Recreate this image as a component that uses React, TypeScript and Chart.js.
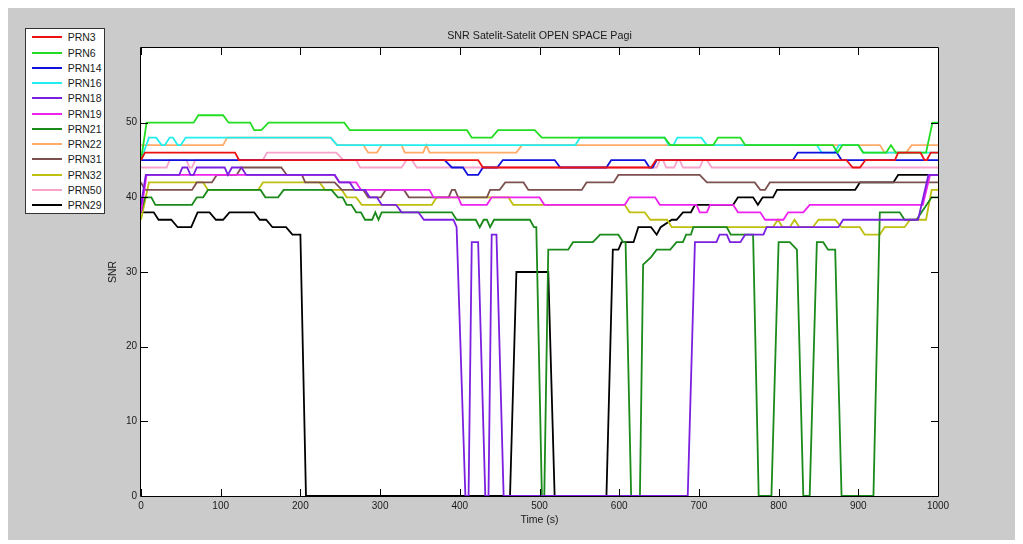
import React, { useEffect, useRef } from 'react';
import { Chart, registerables } from 'chart.js';

Chart.register(...registerables);

const TITLE = 'SNR Satelit-Satelit OPEN SPACE Pagi';
const X_LABEL = 'Time (s)';
const Y_LABEL = 'SNR';
const X_TICKS = [0, 100, 200, 300, 400, 500, 600, 700, 800, 900, 1000];
const Y_TICKS = [0, 10, 20, 30, 40, 50];
const X_MIN = 0;
const X_MAX = 1000;
const Y_MIN = 0;
const Y_MAX = 60;

type Pt = [number, number];

const PRN3: Pt[] = [[0,45],[5,46],[118,46],[123,45],[423,45],[429,44],[640,44],[646,45],[885,45],[893,44],[902,44],[909,45],[946,45],[950,46],[978,46],[983,45],[986,45],[991,46],[1000,46]];
const PRN6: Pt[] = [[0,45],[7,50],[66,50],[72,51],[103,51],[110,50],[137,50],[142,49],[151,49],[160,50],[255,50],[262,49],[409,49],[415,48],[440,48],[448,49],[494,49],[503,48],[657,48],[664,47],[718,47],[724,48],[752,48],[758,47],[868,47],[874,46],[880,47],[900,47],[906,46],[935,46],[941,47],[947,46],[985,46],[993,50],[1000,50]];
const PRN14: Pt[] = [[0,45],[381,45],[390,44],[404,44],[410,43],[423,43],[429,44],[447,44],[454,45],[519,45],[526,44],[584,44],[590,45],[632,45],[638,44],[642,44],[647,45],[818,45],[824,46],[873,46],[879,45],[1000,45]];
const PRN16: Pt[] = [[0,45],[10,48],[19,48],[26,47],[30,47],[36,48],[40,48],[46,47],[50,47],[56,48],[238,48],[246,47],[545,47],[551,48],[657,48],[662,47],[668,47],[673,48],[703,48],[710,47],[848,47],[854,46],[870,46],[876,47],[900,47],[906,46],[1000,46]];
const PRN18: Pt[] = [[0,39],[6,43],[48,43],[52,44],[58,44],[62,43],[66,43],[70,44],[105,44],[109,43],[114,44],[126,44],[132,43],[243,43],[249,42],[262,42],[268,41],[281,41],[287,40],[296,40],[302,39],[320,39],[327,38],[348,38],[355,37],[392,37],[396,36],[407,0],[411,0],[415,34],[423,34],[432,0],[436,0],[440,35],[446,35],[455,0],[686,0],[695,34],[722,34],[726,35],[735,35],[739,34],[752,34],[758,35],[781,35],[785,36],[875,36],[881,37],[975,37],[988,43],[1000,43]];
const PRN19: Pt[] = [[0,38],[7,43],[243,43],[249,42],[270,42],[276,41],[362,41],[367,40],[398,40],[402,39],[434,39],[440,40],[500,40],[506,39],[607,39],[613,40],[645,40],[651,39],[697,39],[701,38],[710,38],[714,39],[743,39],[749,38],[777,38],[783,37],[806,37],[812,38],[831,38],[839,39],[981,39],[990,43],[1000,43]];
const PRN21: Pt[] = [[0,38],[5,40],[13,40],[18,39],[64,39],[70,40],[78,40],[84,41],[150,41],[156,40],[172,40],[179,41],[239,41],[247,40],[253,40],[258,39],[264,39],[270,38],[276,38],[281,37],[290,37],[294,38],[298,37],[302,38],[390,38],[396,37],[420,37],[425,36],[430,37],[434,37],[438,36],[443,37],[488,37],[493,36],[496,36],[503,0],[506,0],[511,33],[536,33],[542,34],[567,34],[576,35],[599,35],[605,34],[608,34],[615,0],[626,0],[630,31],[640,32],[647,33],[664,33],[672,34],[680,34],[684,35],[690,35],[693,36],[735,36],[740,35],[768,35],[775,0],[791,0],[800,34],[814,34],[823,33],[831,0],[839,0],[848,34],[856,34],[862,33],[871,33],[879,0],[919,0],[927,38],[952,38],[958,37],[973,37],[992,40],[1000,40]];
const PRN22: Pt[] = [[0,47],[103,47],[108,48],[238,48],[246,47],[279,47],[285,46],[296,46],[302,47],[327,47],[331,46],[354,46],[358,47],[362,46],[471,46],[478,47],[927,47],[933,46],[960,46],[967,47],[1000,47]];
const PRN31: Pt[] = [[0,42],[5,41],[64,41],[70,42],[89,42],[95,43],[120,43],[126,44],[176,44],[183,43],[202,43],[206,42],[243,42],[252,41],[279,41],[285,40],[301,40],[307,41],[330,41],[336,40],[386,40],[390,41],[394,41],[398,40],[434,40],[438,41],[450,41],[457,42],[480,42],[486,41],[553,41],[559,42],[593,42],[599,43],[701,43],[710,42],[770,42],[777,41],[783,41],[789,42],[1000,42]];
const PRN32: Pt[] = [[0,37],[10,42],[78,42],[84,41],[147,41],[153,42],[224,42],[231,41],[252,41],[258,40],[270,40],[277,39],[365,39],[371,40],[461,40],[467,39],[607,39],[613,38],[632,38],[639,37],[660,37],[666,36],[793,36],[799,37],[805,36],[814,36],[820,37],[826,36],[843,36],[850,37],[871,37],[879,36],[902,36],[908,35],[927,35],[933,36],[958,36],[965,37],[985,37],[992,41],[1000,41]];
const PRN50: Pt[] = [[0,44],[32,44],[36,45],[57,45],[61,44],[64,44],[68,45],[153,45],[158,46],[245,46],[254,45],[270,45],[275,44],[327,44],[333,45],[340,45],[346,44],[647,44],[651,45],[655,45],[659,44],[669,44],[673,45],[676,45],[680,44],[701,44],[705,45],[710,45],[716,44],[1000,44]];
const PRN29: Pt[] = [[0,38],[16,38],[22,37],[38,37],[46,36],[63,36],[71,38],[86,38],[94,37],[103,37],[111,38],[142,38],[149,37],[157,37],[165,36],[182,36],[190,35],[200,35],[207,0],[463,0],[471,30],[511,30],[519,0],[584,0],[592,33],[599,33],[603,34],[618,34],[624,36],[640,36],[647,35],[652,36],[666,37],[672,37],[680,38],[690,38],[695,39],[743,39],[749,40],[768,40],[774,39],[780,40],[793,40],[798,41],[896,41],[902,42],[944,42],[950,43],[1000,43]];

const SERIES_NAMES = ['PRN3', 'PRN6', 'PRN14', 'PRN16', 'PRN18', 'PRN19', 'PRN21', 'PRN22', 'PRN31', 'PRN32', 'PRN50', 'PRN29'];
const SERIES_DATA = [PRN3, PRN6, PRN14, PRN16, PRN18, PRN19, PRN21, PRN22, PRN31, PRN32, PRN50, PRN29];
const SERIES_COLORS = ['#ee1111', '#22dd22', '#1111dd', '#22eeee', '#7b1fe0', '#ee22ee', '#1a8a1a', '#ffab6a', '#7d5050', '#bfbf10', '#f7a3cc', '#000000'];

const FONT = "'Liberation Sans', Arial, Helvetica, sans-serif";
const TEXT_COLOR = '#1a1a1a';

export default function App() {
  const canvasRef = useRef<HTMLCanvasElement>(null);

  useEffect(() => {
    if (!canvasRef.current) return;

    const boxPlugin = {
      id: 'matlabBox',
      beforeDatasetsDraw(chart: any) {
        const { ctx, chartArea } = chart;
        const { left, top, right, bottom } = chartArea;
        ctx.save();
        ctx.fillStyle = '#ffffff';
        ctx.fillRect(left, top, right - left, bottom - top);
        ctx.restore();
      },
      afterDatasetsDraw(chart: any) {
        const { ctx, chartArea, scales } = chart;
        const { left, top, right, bottom } = chartArea;
        const xs = scales.x;
        const ys = scales.y;
        ctx.save();
        ctx.strokeStyle = '#000000';
        ctx.lineWidth = 1;
        ctx.beginPath();
        ctx.rect(Math.round(left) - 0.5, Math.round(top) - 0.5, Math.round(right - left) + 1, Math.round(bottom - top) + 1);
        ctx.stroke();
        const tl = 7;
        ctx.beginPath();
        X_TICKS.forEach((v) => {
          const px = Math.round(xs.getPixelForValue(v)) + 0.5;
          ctx.moveTo(px, bottom);
          ctx.lineTo(px, bottom - tl);
          ctx.moveTo(px, top);
          ctx.lineTo(px, top + tl);
        });
        Y_TICKS.forEach((v) => {
          const py = Math.round(ys.getPixelForValue(v)) + 0.5;
          ctx.moveTo(left, py);
          ctx.lineTo(left + tl, py);
          ctx.moveTo(right, py);
          ctx.lineTo(right - tl, py);
        });
        ctx.stroke();
        ctx.restore();
      },
    };

    const chart = new Chart(canvasRef.current, {
      type: 'line',
      data: {
        datasets: SERIES_NAMES.map((name, i) => ({
          label: name,
          data: SERIES_DATA[i].map(([x, y]) => ({ x, y })),
          borderColor: SERIES_COLORS[i],
          backgroundColor: SERIES_COLORS[i],
          borderWidth: 1.8,
          pointRadius: 0,
          pointHoverRadius: 0,
          tension: 0,
          fill: false,
          clip: 3,
        })),
      },
      options: {
        responsive: false,
        animation: false,
        devicePixelRatio: 1,
        events: [],
        layout: { padding: { left: 93, right: 78, top: 0, bottom: 10 } },
        plugins: {
          legend: { display: false },
          tooltip: { enabled: false },
          title: {
            display: true,
            text: TITLE,
            fullSize: false,
            color: TEXT_COLOR,
            font: { family: FONT, size: 10.7, weight: 'normal' },
            padding: { top: 21.4, bottom: 5.8 },
          },
        },
        scales: {
          x: {
            type: 'linear',
            min: X_MIN,
            max: X_MAX,
            afterBuildTicks: (scale: any) => {
              scale.ticks = X_TICKS.map((v) => ({ value: v }));
            },
            afterFit: (scale: any) => {
              scale.height = 34;
            },
            grid: { display: false, drawTicks: false },
            border: { display: false },
            ticks: {
              color: TEXT_COLOR,
              font: { family: FONT, size: 10 },
              padding: 4,
              maxRotation: 0,
              autoSkip: false,
              callback: (v: any) => String(v),
            },
            title: {
              display: true,
              text: X_LABEL,
              color: TEXT_COLOR,
              font: { family: FONT, size: 10.5 },
              padding: { top: 0, bottom: 3.7 },
            },
          },
          y: {
            type: 'linear',
            min: Y_MIN,
            max: Y_MAX,
            afterBuildTicks: (scale: any) => {
              scale.ticks = Y_TICKS.map((v) => ({ value: v }));
            },
            afterFit: (scale: any) => {
              scale.width = 40;
            },
            grid: { display: false, drawTicks: false },
            border: { display: false },
            ticks: {
              color: TEXT_COLOR,
              font: { family: FONT, size: 10 },
              padding: 4,
              autoSkip: false,
              callback: (v: any) => String(v),
            },
            title: {
              display: true,
              text: Y_LABEL,
              color: TEXT_COLOR,
              font: { family: FONT, size: 10.5 },
              padding: { top: 5.7, bottom: 0 },
            },
          },
        },
      },
      plugins: [boxPlugin],
    } as any);

    return () => {
      chart.destroy();
    };
  }, []);

  const rowStart = 8.3;
  const rowStep = 15.25;

  return (
    <div style={{ position: 'relative', width: 1008, height: 532, background: '#cbcbcb', fontFamily: FONT }}>
      <canvas ref={canvasRef} width={1008} height={532} style={{ position: 'absolute', left: 0, top: 0, width: 1008, height: 532 }} />
      <div
        style={{
          position: 'absolute',
          left: 17,
          top: 20,
          width: 78,
          height: 184,
          background: '#ffffff',
          border: '1px solid #333333',
        }}
      >
        {SERIES_NAMES.map((name, i) => (
          <div key={name}>
            <div
              style={{
                position: 'absolute',
                left: 5.7,
                top: rowStart + i * rowStep - 1,
                width: 30.6,
                height: 2,
                background: SERIES_COLORS[i],
              }}
            />
            <div
              style={{
                position: 'absolute',
                left: 41.7,
                top: rowStart + i * rowStep - 7,
                height: 14,
                lineHeight: '14px',
                fontSize: 10.5,
                color: TEXT_COLOR,
                whiteSpace: 'nowrap',
              }}
            >
              {name}
            </div>
          </div>
        ))}
      </div>
    </div>
  );
}
